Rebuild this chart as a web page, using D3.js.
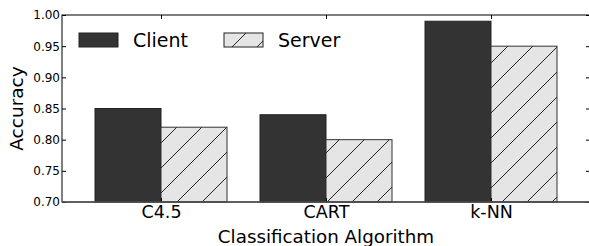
<!DOCTYPE html>
<html>
<head>
<meta charset="utf-8">
<script src="https://cdn.jsdelivr.net/npm/d3@7"></script>
<style>
  body { margin: 0; background: #fff; }
  text { font-family: 'DejaVu Sans', sans-serif; fill: #000; }
</style>
</head>
<body>
<div class="wrapper"></div>
<script>
const categories = ['C4.5', 'CART', 'k-NN']
const series = ['Client', 'Server']
const clientValues = [0.85, 0.84, 0.99]
const serverValues = [0.82, 0.80, 0.95]
const yTicks = [0.70, 0.75, 0.80, 0.85, 0.90, 0.95, 1.00]

const width = 589, height = 246
const margin = { top: 15, right: -1, bottom: 44, left: 62 }

const svg = d3.select('.wrapper')
  .append('svg')
  .attr('width', width)
  .attr('height', height)

// hatch for the server bars
const defs = svg.append('defs')
const pat = defs.append('pattern')
  .attr('id', 'hatch')
  .attr('patternUnits', 'userSpaceOnUse')
  .attr('width', 25)
  .attr('height', 25)
  .attr('x', 0)
  .attr('y', 4)
pat.append('rect').attr('width', 25).attr('height', 25).attr('fill', '#e5e5e5')
pat.append('path')
  .attr('d', 'M -2 27 L 27 -2 M -5 5 L 5 -5 M 20 30 L 30 20')
  .attr('stroke', '#222')
  .attr('stroke-width', 1)

const plotW = width - margin.left - margin.right
const plotH = height - margin.top - margin.bottom

const x = d3.scaleLinear().domain([-0.6, 2.6]).range([margin.left, margin.left + plotW])
const y = d3.scaleLinear().domain([0.7, 1.0]).range([margin.top + plotH, margin.top])
const barW = 0.4

const g = svg.append('g')

// client bars
g.selectAll('rect.client')
  .data(clientValues)
  .enter().append('rect')
  .attr('class', 'client')
  .attr('x', (d, i) => x(i - barW))
  .attr('y', d => y(d))
  .attr('width', x(barW) - x(0))
  .attr('height', d => y(0.7) - y(d))
  .attr('fill', '#333333')
  .attr('stroke', '#222')
  .attr('stroke-width', 1)

// server bars
g.selectAll('rect.server')
  .data(serverValues)
  .enter().append('rect')
  .attr('class', 'server')
  .attr('x', (d, i) => x(i))
  .attr('y', d => y(d))
  .attr('width', x(barW) - x(0))
  .attr('height', d => y(0.7) - y(d))
  .attr('fill', 'url(#hatch)')
  .attr('stroke', '#333')
  .attr('stroke-width', 1)

// y axis, ticks pointing inward
const yAxis = svg.append('g')
  .attr('transform', `translate(${margin.left},0)`)
  .call(d3.axisLeft(y).tickValues(yTicks).tickFormat(d3.format('.2f')).tickSizeInner(-4).tickSizeOuter(0).tickPadding(2))
yAxis.select('.domain').remove()
yAxis.selectAll('text').attr('font-size', 12).attr('font-family', 'DejaVu Sans')
yAxis.selectAll('line').attr('stroke', '#000')

// right ticks
const yAxisR = svg.append('g')
  .attr('transform', `translate(${margin.left + plotW},0)`)
  .call(d3.axisRight(y).tickValues(yTicks).tickFormat('').tickSizeInner(-4).tickSizeOuter(0))
yAxisR.select('.domain').remove()
yAxisR.selectAll('line').attr('stroke', '#000')

// x axis
const xAxis = svg.append('g')
  .attr('transform', `translate(0,${margin.top + plotH})`)
  .call(d3.axisBottom(x).tickValues([0, 1, 2]).tickFormat((d, i) => categories[i]).tickSizeInner(-4).tickSizeOuter(0).tickPadding(4))
xAxis.select('.domain').remove()
xAxis.selectAll('text').attr('font-size', 17.5).attr('font-family', 'DejaVu Sans')
xAxis.selectAll('line').attr('stroke', '#000')

// top ticks
const xAxisT = svg.append('g')
  .attr('transform', `translate(0,${margin.top})`)
  .call(d3.axisTop(x).tickValues([0, 1, 2]).tickFormat('').tickSizeInner(-4).tickSizeOuter(0))
xAxisT.select('.domain').remove()
xAxisT.selectAll('line').attr('stroke', '#000')

// frame
svg.append('rect')
  .attr('x', margin.left)
  .attr('y', margin.top)
  .attr('width', plotW)
  .attr('height', plotH)
  .attr('fill', 'none')
  .attr('stroke', '#000')
  .attr('stroke-width', 1)
svg.append('line')
  .attr('x1', margin.left).attr('x2', margin.left + plotW)
  .attr('y1', margin.top + plotH).attr('y2', margin.top + plotH)
  .attr('stroke', '#555').attr('stroke-width', 1.5)

// axis titles
svg.append('text')
  .attr('x', x(1))
  .attr('y', 243)
  .attr('text-anchor', 'middle')
  .attr('font-size', 18.3)
  .text('Classification Algorithm')

svg.append('text')
  .attr('transform', `translate(23,${y(0.85)}) rotate(-90)`)
  .attr('text-anchor', 'middle')
  .attr('font-size', 18.5)
  .text('Accuracy')

// legend
const legend = svg.append('g')
const legendX = [79, 224]
const legendFill = ['#333333', 'url(#hatch)']
series.forEach((s, i) => {
  legend.append('rect')
    .attr('x', legendX[i]).attr('y', 33)
    .attr('width', 39).attr('height', 14)
    .attr('fill', legendFill[i])
    .attr('stroke', '#222').attr('stroke-width', 1)
  legend.append('text')
    .attr('x', legendX[i] + 54).attr('y', 47)
    .attr('font-size', 19)
    .text(s)
})
</script>
</body>
</html>
